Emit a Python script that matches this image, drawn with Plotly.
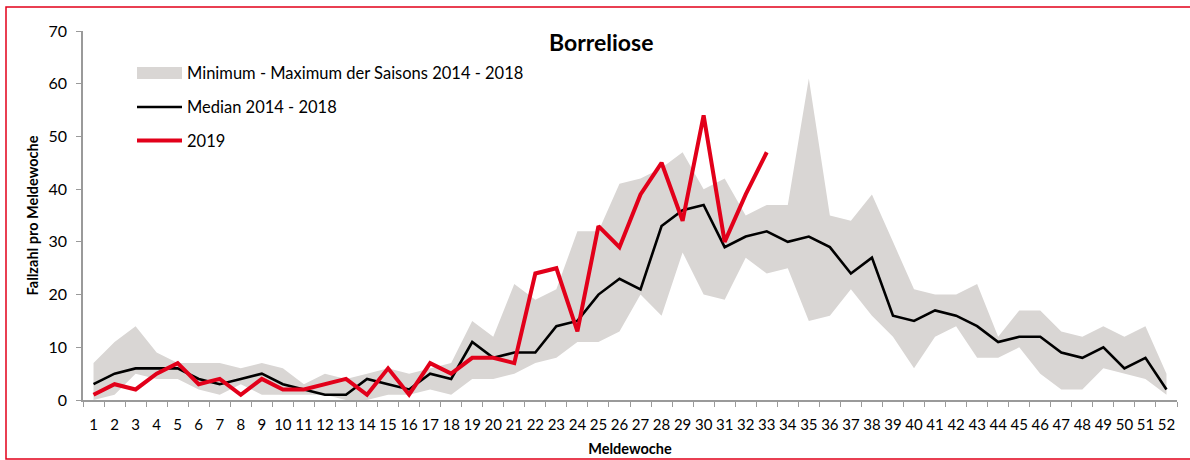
import plotly.graph_objects as go

weeks = [str(w) for w in range(1, 53)]

band_max = [7, 11, 14, 9, 7, 7, 7, 6, 7, 6,
            3, 5, 4, 5, 6, 5, 6, 7, 15, 12,
            22, 19, 21, 32, 32, 41, 42, 44, 47, 40,
            42, 35, 37, 37, 61, 35, 34, 39, 30, 21,
            20, 20, 22, 12, 17, 17, 13, 12, 14, 12,
            14, 5]
band_min = [0, 1, 5, 4, 4, 2, 1, 3, 1, 1,
            1, 1, 0, 0, 1, 1, 2, 1, 4, 4,
            5, 7, 8, 11, 11, 13, 20, 16, 28, 20,
            19, 27, 24, 25, 15, 16, 21, 16, 12, 6,
            12, 14, 8, 8, 10, 5, 2, 2, 6, 5,
            4, 1]
median = [3, 5, 6, 6, 6, 4, 3, 4, 5, 3,
          2, 1, 1, 4, 3, 2, 5, 4, 11, 8,
          9, 9, 14, 15, 20, 23, 21, 33, 36, 37,
          29, 31, 32, 30, 31, 29, 24, 27, 16, 15,
          17, 16, 14, 11, 12, 12, 9, 8, 10, 6,
          8, 2]
cases_2019 = [1, 3, 2, 5, 7, 3, 4, 1, 4, 2,
              2, 3, 4, 1, 6, 1, 7, 5, 8, 8,
              7, 24, 25, 13, 33, 29, 39, 45, 34, 54,
              30, 39, 47]

legend_labels = ["Minimum - Maximum der Saisons 2014 - 2018",
                 "Median 2014 - 2018", "2019"]

GRAY = "#d9d6d4"
RED = "#e2001a"
FONT = "Lato"

W, H = 1190, 460
L, R, T, B = 83, 13, 31, 60
PW, PH = W - L - R, H - T - B


def px(x):
    return (x - L) / PW


def py(y):
    return (H - B - y) / PH


fig = go.Figure()
fig.add_trace(go.Scatter(x=weeks, y=band_min, mode="lines",
                         line=dict(width=0, color=GRAY), hoverinfo="skip",
                         showlegend=False))
fig.add_trace(go.Scatter(x=weeks, y=band_max, mode="lines", fill="tonexty",
                         fillcolor=GRAY, line=dict(width=0, color=GRAY),
                         name=legend_labels[0], showlegend=False))
fig.add_trace(go.Scatter(x=weeks, y=median, mode="lines",
                         line=dict(color="black", width=2.6),
                         name=legend_labels[1], showlegend=False))
fig.add_trace(go.Scatter(x=weeks[:len(cases_2019)], y=cases_2019, mode="lines",
                         line=dict(color=RED, width=4),
                         name=legend_labels[2], showlegend=False))

shapes = [
    # legend symbols
    dict(type="rect", xref="paper", yref="paper", x0=px(137), x1=px(182),
         y0=py(79), y1=py(67), fillcolor=GRAY, line=dict(width=0)),
    dict(type="line", xref="paper", yref="paper", x0=px(137), x1=px(182),
         y0=py(107), y1=py(107), line=dict(color="black", width=2.6)),
    dict(type="line", xref="paper", yref="paper", x0=px(137), x1=px(182),
         y0=py(140.5), y1=py(140.5), line=dict(color=RED, width=4)),
    # outer red frame
    dict(type="rect", xref="paper", yref="paper", x0=px(6), x1=px(1195),
         y0=py(459), y1=py(7), line=dict(color=RED, width=1.5),
         fillcolor="rgba(0,0,0,0)", layer="below"),
]

annotations = [
    dict(text="<b>Borreliose</b>", xref="paper", yref="paper", x=px(601), y=py(42),
         xanchor="center", yanchor="middle", showarrow=False,
         font=dict(family=FONT, size=23, color="black")),
]
for lbl, yc in zip(legend_labels, [73, 107, 140.5]):
    annotations.append(dict(text=lbl, xref="paper", yref="paper", x=px(185), y=py(yc),
                            xanchor="left", yanchor="middle", showarrow=False,
                            font=dict(family=FONT, size=16.5, color="black")))

fig.update_layout(
    width=W, height=H,
    margin=dict(l=L, r=R, t=T, b=B, pad=0, autoexpand=False),
    paper_bgcolor="white", plot_bgcolor="white",
    showlegend=False,
    font=dict(family=FONT, size=15, color="black"),
    shapes=shapes,
    annotations=annotations,
    xaxis=dict(type="category", range=[-0.5, 51.5], tickson="boundaries",
               ticks="outside", ticklen=5, tickcolor="#9a9a9a", tickwidth=1,
               showline=True, linecolor="#9a9a9a", linewidth=1.5,
               showgrid=False, zeroline=False, ticklabelstandoff=10,
               tickangle=0, automargin=False,
               tickfont=dict(family=FONT, size=15),
               title=dict(text="<b>Meldewoche</b>", standoff=12,
                          font=dict(family=FONT, size=14.5))),
    yaxis=dict(range=[0, 70], dtick=10, ticks="outside", ticklen=5,
               tickcolor="#9a9a9a", tickwidth=1, showline=True,
               linecolor="#9a9a9a", linewidth=1.5, showgrid=False,
               zeroline=False, ticklabelstandoff=6, automargin=False,
               tickfont=dict(family=FONT, size=16),
               title=dict(text="<b>Fallzahl pro Meldewoche</b>", standoff=6,
                          font=dict(family=FONT, size=14.5))),
)

fig.write_html("out.html", config={"displayModeBar": False},
               post_script="document.body.style.margin='0';document.body.style.overflow='hidden';")
